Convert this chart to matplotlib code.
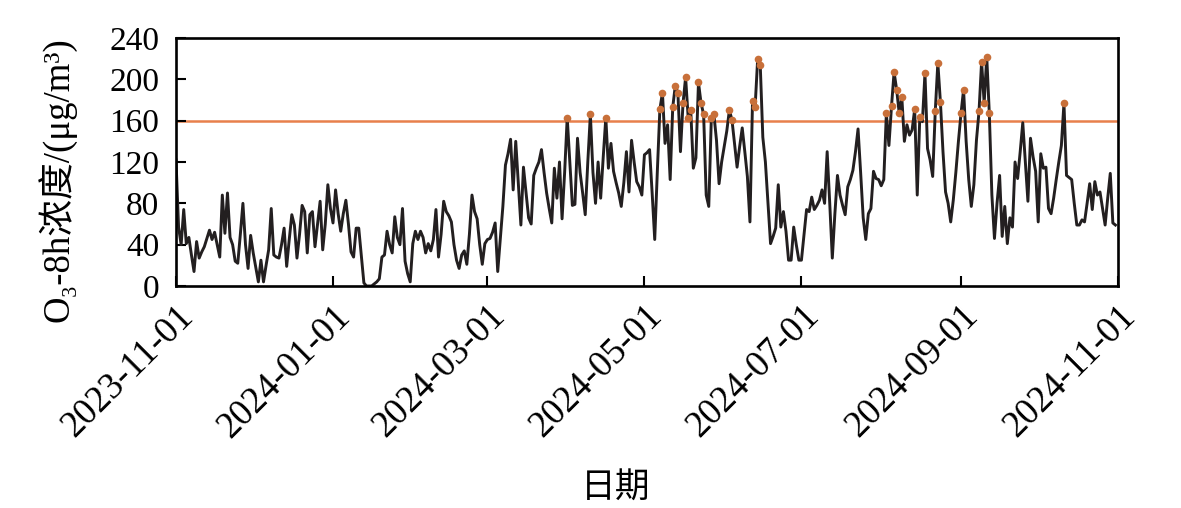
import numpy as np
import pandas as pd
import matplotlib
matplotlib.use("Agg")
import matplotlib.pyplot as plt
import matplotlib.dates as mdates

plt.rcParams['font.family'] = ['Liberation Serif', 'DejaVu Serif', 'Noto Sans CJK SC']

# 日均 O3-8h 浓度 (μg/m3)，按月读图估计
nov = [122, 57, 40, 74, 41, 47, 30, 14, 43, 27, 33, 38, 46, 54, 45, 52, 40, 28, 88, 51,
       90, 47, 40, 24, 22, 50, 80, 40, 17, 49]
dec = [32, 18, 4, 25, 4, 20, 35, 75, 30, 28, 27, 40, 56, 19, 45, 69, 59, 27, 50, 78,
       72, 32, 69, 72, 38, 60, 82, 35, 60, 98, 75]
jan = [61, 93, 70, 53, 70, 83, 60, 33, 28, 56, 56, 30, 3, 0, 0, 0, 2, 4, 7, 28,
       30, 53, 40, 32, 67, 47, 40, 75, 24, 12, 4]
feb = [41, 53, 45, 53, 47, 32, 41, 34, 45, 74, 28, 50, 82, 72, 68, 62, 40, 25, 17, 30,
       34, 21, 50, 88, 72, 65, 40, 21, 41]
mar = [45, 46, 52, 61, 14, 45, 77, 117, 128, 142, 93, 140, 100, 59, 115, 90, 66, 60, 107, 114,
       120, 132, 110, 90, 75, 61, 114, 85, 120, 65, 110]
apr = [163, 120, 78, 79, 143, 110, 90, 69, 120, 166, 110, 80, 120, 85, 125, 163, 114, 138, 111, 100,
       90, 77, 100, 130, 91, 141, 120, 101, 96, 88]
may = [127, 129, 132, 90, 45, 110, 171, 187, 138, 156, 103, 173, 194, 187, 130, 177, 202, 163, 170, 114,
       124, 197, 177, 166, 88, 77, 163, 166, 141, 99, 120]
jun = [135, 150, 170, 161, 138, 115, 135, 153, 130, 106, 62, 179, 173, 220, 214, 144, 120, 80, 41, 48,
       56, 98, 57, 72, 53, 25, 25, 57, 40, 25]
jul = [25, 50, 74, 72, 86, 74, 78, 83, 93, 80, 130, 80, 27, 70, 107, 88, 78, 69, 96, 103,
       112, 130, 152, 110, 66, 45, 70, 75, 111, 104, 103]
aug = [97, 103, 167, 136, 174, 207, 190, 167, 183, 140, 156, 146, 151, 171, 88, 164, 159, 206, 133, 122,
       106, 169, 216, 178, 130, 91, 80, 62, 83, 110, 140]
sep = [167, 190, 140, 103, 77, 98, 141, 169, 217, 177, 222, 167, 88, 46, 80, 107, 48, 77, 41, 66,
       57, 120, 104, 130, 158, 120, 82, 143, 125, 111]
oct_ = [62, 128, 114, 115, 75, 70, 85, 103, 120, 136, 177, 107, 105, 103, 80, 59, 59, 64, 62, 80,
        99, 74, 101, 88, 91, 75, 59, 85, 109, 61, 59]

limit = 160  # 二级标准限值
tick_dates = ['2023-11-01', '2024-01-01', '2024-03-01', '2024-05-01',
              '2024-07-01', '2024-09-01', '2024-11-01']
y_ticks = [0, 40, 80, 120, 160, 200, 240]

values = np.array(nov + dec + jan + feb + mar + apr + may + jun + jul + aug + sep + oct_, dtype=float)
dates = pd.date_range('2023-11-01', periods=len(values), freq='D')
over = values > limit

fig = plt.figure(figsize=(11.81, 5.08), dpi=100)
ax = fig.add_axes([176 / 1181, 1 - 286 / 508, (1118 - 176) / 1181, (286 - 38) / 508])

ax.axhline(limit, color='#E8804C', lw=1.8, zorder=1)
ax.plot(dates, values, color='#231F20', lw=2.1, zorder=2)
ax.plot(dates[over], values[over], 'o', color='#C8703A', ms=5.5, mec='none', zorder=3)

ax.set_xlim(pd.Timestamp('2023-11-01'), pd.Timestamp('2024-11-01'))
ax.set_ylim(0, 240)
ax.set_yticks(y_ticks)
ax.set_xticks(pd.to_datetime(tick_dates))
ax.xaxis.set_major_formatter(mdates.DateFormatter('%Y-%m-%d'))
ax.minorticks_off()

ax.tick_params(axis='both', direction='in', length=7, width=1.5, labelsize=24)
ax.tick_params(axis='y', pad=12)
ax.tick_params(axis='x', pad=9, labelsize=26.5)
for lab in ax.get_xticklabels():
    lab.set_rotation(45)
    lab.set_ha('right')
    lab.set_va('top')
    lab.set_rotation_mode('anchor')
for sp in ax.spines.values():
    sp.set_linewidth(1.9)

ax.set_ylabel('O₃-8h浓度/(μg/m³)', fontsize=26.5)
ax.yaxis.set_label_coords(-0.106, 0.43)
ax.set_xlabel('日期', fontsize=25, family=['Noto Sans CJK SC'])
ax.xaxis.set_label_coords(0.467, -0.745)

fig.savefig('out.png', dpi=100)
